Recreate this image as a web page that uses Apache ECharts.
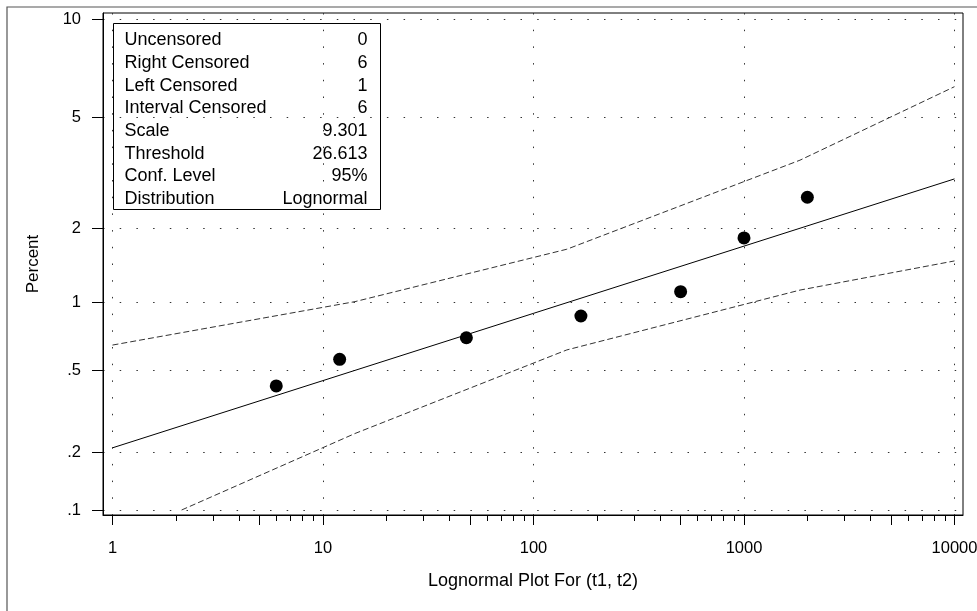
<!DOCTYPE html>
<html>
<head>
<meta charset="utf-8">
<script src="https://cdn.jsdelivr.net/npm/echarts@6/dist/echarts.min.js"></script>
<style>
  html, body { margin: 0; padding: 0; background: #fff; }
  #chart { width: 977px; height: 611px; }
</style>
</head>
<body>
<div id="chart"></div>
<script>
// Observed cumulative failure percentages at each time
const times = [6, 12, 48, 168, 500, 1000, 2000];
const percents = [0.423, 0.562, 0.703, 0.876, 1.113, 1.84, 2.63];

// Fitted lognormal line (straight on probability paper): end points
const fitTimes = [1, 10000];
const fitPercents = [0.211, 3.07];

// 95% pointwise confidence limits
const upperTimes = [1, 14.2, 144, 1845, 10000];
const upperPercents = [0.652, 1.01, 1.66, 3.58, 6.29];
const lowerTimes = [2.13, 14.2, 144, 1845, 10000];
const lowerPercents = [0.1, 0.249, 0.62, 1.13, 1.49];

// Axis ticks
const xMajorTicks = [1, 10, 100, 1000, 10000];
const xHalfTicks = [5, 50, 500, 5000];
const xMinorTicks = [2, 3, 4, 6, 7, 8, 9, 20, 30, 40, 60, 70, 80, 90,
  200, 300, 400, 600, 700, 800, 900, 2000, 3000, 4000, 6000, 7000, 8000, 9000];
const yTicks = [0.1, 0.2, 0.5, 1, 2, 5, 10];
const yTickLabels = ['.1', '.2', '.5', '1', '2', '5', '10'];

// Summary table
const statNames = ['Uncensored', 'Right Censored', 'Left Censored', 'Interval Censored',
  'Scale', 'Threshold', 'Conf. Level', 'Distribution'];
const statValues = ['0', '6', '1', '6', '9.301', '26.613', '95%', 'Lognormal'];

// Inverse standard normal CDF (Acklam's rational approximation)
function probit(p) {
  const a = [-3.969683028665376e+01, 2.209460984245205e+02, -2.759285104469687e+02,
    1.383577518672690e+02, -3.066479806614716e+01, 2.506628277459239e+00];
  const b = [-5.447609879822406e+01, 1.615858368580409e+02, -1.556989798598866e+02,
    6.680131188771972e+01, -1.328068155288572e+01];
  const c = [-7.784894002430293e-03, -3.223964580411365e-01, -2.400758277161838e+00,
    -2.549732539343734e+00, 4.374664141464968e+00, 2.938163982698783e+00];
  const d = [7.784695709041462e-03, 3.224671290700398e-01, 2.445134137142996e+00,
    3.754408661907416e+00];
  const pl = 0.02425, ph = 1 - pl;
  let q, r;
  if (p < pl) {
    q = Math.sqrt(-2 * Math.log(p));
    return (((((c[0] * q + c[1]) * q + c[2]) * q + c[3]) * q + c[4]) * q + c[5]) /
      ((((d[0] * q + d[1]) * q + d[2]) * q + d[3]) * q + 1);
  }
  if (p <= ph) {
    q = p - 0.5; r = q * q;
    return (((((a[0] * r + a[1]) * r + a[2]) * r + a[3]) * r + a[4]) * r + a[5]) * q /
      (((((b[0] * r + b[1]) * r + b[2]) * r + b[3]) * r + b[4]) * r + 1);
  }
  q = Math.sqrt(-2 * Math.log(1 - p));
  return -(((((c[0] * q + c[1]) * q + c[2]) * q + c[3]) * q + c[4]) * q + c[5]) /
    ((((d[0] * q + d[1]) * q + d[2]) * q + d[3]) * q + 1);
}

// Log time on x, normal quantile of the percentage on y
const tx = t => Math.log10(t);
const py = pct => probit(pct / 100);
const pairs = (ts, ps) => ts.map((t, i) => [tx(t), py(ps[i])]);

const FONT = '"Liberation Sans", Arial, Helvetica, sans-serif';
const X_MIN = -0.045, X_MAX = 4.0404;   // small margin round 1 .. 10000
const Y_MIN = -3.1086, Y_MAX = -1.2595; // small margin round .1 .. 10 percent

const dotted = { color: '#333', width: 1, type: [1.5, 15.2] };

function xAxisBase(extra) {
  return Object.assign({
    type: 'value', position: 'bottom', min: X_MIN, max: X_MAX,
    axisLine: { show: false, onZero: false },
    axisLabel: { show: false },
    splitLine: { show: false },
    axisPointer: { show: false }
  }, extra);
}

const chart = echarts.init(document.getElementById('chart'), null, { renderer: 'canvas' });

chart.setOption({
  animation: false,
  backgroundColor: '#fff',
  textStyle: { fontFamily: FONT },
  grid: {
    left: 103, top: 13, right: 14, bottom: 96,
    show: true, borderColor: '#000', borderWidth: 1, backgroundColor: 'transparent',
    outerBoundsMode: 'none'
  },
  xAxis: [
    xAxisBase({
      name: 'Lognormal Plot For (t1, t2)',
      nameLocation: 'middle', nameGap: 57,
      nameTextStyle: { color: '#000', fontSize: 18, fontFamily: FONT },
      axisLine: { show: true, onZero: false, lineStyle: { color: '#000', width: 1 } },
      axisTick: { show: true, length: 10, customValues: xMajorTicks.map(tx),
        lineStyle: { color: '#000', width: 1 } },
      axisLabel: { show: true, customValues: xMajorTicks.map(tx), margin: 25,
        color: '#000', fontSize: 16.5, fontFamily: FONT,
        formatter: v => String(Math.round(Math.pow(10, v))) },
      splitLine: { show: true, lineStyle: dotted }
    }),
    xAxisBase({
      axisTick: { show: true, length: 10, customValues: xHalfTicks.map(tx),
        lineStyle: { color: '#000', width: 1 } }
    }),
    xAxisBase({
      axisTick: { show: true, length: 6, customValues: xMinorTicks.map(tx),
        lineStyle: { color: '#000', width: 1 } }
    })
  ],
  yAxis: {
    type: 'value', min: Y_MIN, max: Y_MAX,
    name: 'Percent', nameLocation: 'middle', nameGap: 61, nameRotate: 90,
    nameTextStyle: { color: '#000', fontSize: 17, fontFamily: FONT },
    axisLine: { show: true, onZero: false, lineStyle: { color: '#000', width: 1 } },
    axisTick: { show: true, length: 11, customValues: yTicks.map(py),
      lineStyle: { color: '#000', width: 1 } },
    axisLabel: { show: true, customValues: yTicks.map(py), margin: 22,
      color: '#000', fontSize: 16.5, fontFamily: FONT,
      formatter: v => {
        let best = 0;
        yTicks.forEach((p, i) => {
          if (Math.abs(py(p) - v) < Math.abs(py(yTicks[best]) - v)) best = i;
        });
        return yTickLabels[best];
      } },
    splitLine: { show: true, lineStyle: dotted },
    axisPointer: { show: false }
  },
  series: [
    {
      name: 'Upper limit', type: 'line', xAxisIndex: 0,
      data: pairs(upperTimes, upperPercents),
      showSymbol: false, symbol: 'none', silent: true,
      lineStyle: { color: '#333', width: 1, type: [6, 3] }
    },
    {
      name: 'Lower limit', type: 'line', xAxisIndex: 0,
      data: pairs(lowerTimes, lowerPercents),
      showSymbol: false, symbol: 'none', silent: true,
      lineStyle: { color: '#333', width: 1, type: [6, 3] }
    },
    {
      name: 'Fit', type: 'line', xAxisIndex: 0,
      data: pairs(fitTimes, fitPercents),
      showSymbol: false, symbol: 'none', silent: true,
      lineStyle: { color: '#000', width: 1 }
    },
    {
      name: 'Observed', type: 'scatter', xAxisIndex: 0,
      data: pairs(times, percents),
      symbol: 'circle', symbolSize: 13, silent: true,
      itemStyle: { color: '#000', opacity: 1 }
    }
  ],
  graphic: [
    {
      type: 'rect', silent: true, z: 0,
      shape: { x: 7, y: 7, width: 1000, height: 700 },
      style: { fill: 'none', stroke: '#555', lineWidth: 1.2 }
    },
    {
      type: 'group', left: 113, top: 23, z: 100,
      children: [
        {
          type: 'rect', shape: { x: 0, y: 0, width: 267, height: 186 },
          style: { fill: '#fff', stroke: '#000', lineWidth: 1 }
        }
      ].concat(statNames.map((n, i) => ({
        type: 'text', x: 11, y: 17 + i * 22.65,
        style: { text: n, fill: '#000', font: '18px ' + FONT,
          textAlign: 'left', textVerticalAlign: 'middle' }
      }))).concat(statValues.map((v, i) => ({
        type: 'text', x: 254, y: 17 + i * 22.65,
        style: { text: v, fill: '#000', font: '18px ' + FONT,
          textAlign: 'right', textVerticalAlign: 'middle' }
      })))
    }
  ]
});
</script>
</body>
</html>
